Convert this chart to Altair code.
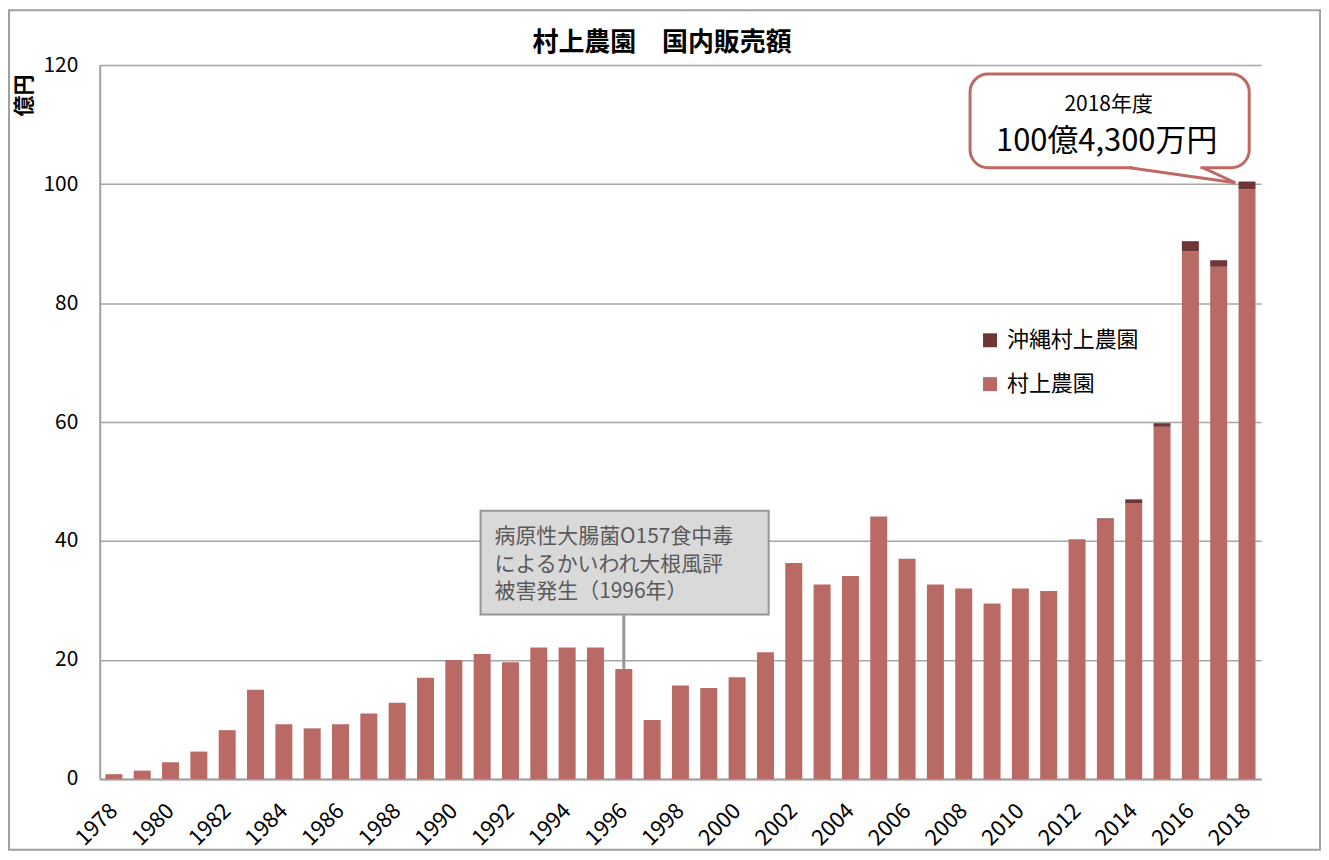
import altair as alt
import pandas as pd

years = ["1978", "1979", "1980", "1981", "1982", "1983", "1984", "1985", "1986", "1987",
         "1988", "1989", "1990", "1991", "1992", "1993", "1994", "1995", "1996", "1997",
         "1998", "1999", "2000", "2001", "2002", "2003", "2004", "2005", "2006", "2007",
         "2008", "2009", "2010", "2011", "2012", "2013", "2014", "2015", "2016", "2017", "2018"]
murakami = [0.8, 1.4, 2.8, 4.6, 8.2, 15.0, 9.2, 8.5, 9.2, 11.0,
            12.8, 17.0, 20.0, 21.0, 19.6, 22.1, 22.1, 22.1, 18.5, 9.9,
            15.7, 15.3, 17.1, 21.3, 36.3, 32.7, 34.1, 44.1, 37.0, 32.7,
            32.0, 29.5, 32.0, 31.6, 40.3, 43.6, 46.3, 59.2, 88.7, 86.1, 99.1]
okinawa = [0, 0, 0, 0, 0, 0, 0, 0, 0, 0,
           0, 0, 0, 0, 0, 0, 0, 0, 0, 0,
           0, 0, 0, 0, 0, 0, 0, 0, 0, 0,
           0, 0, 0, 0, 0, 0.2, 0.7, 0.6, 1.7, 1.1, 1.33]
series = ["沖縄村上農園", "村上農園"]
colors = ["#6E3634", "#B96A65"]
label_years = ["1978", "1980", "1982", "1984", "1986", "1988", "1990", "1992", "1994", "1996",
               "1998", "2000", "2002", "2004", "2006", "2008", "2010", "2012", "2014", "2016", "2018"]
y_ticks = [0, 20, 40, 60, 80, 100, 120]

title_text = "村上農園　国内販売額"
y_title = "億円"
callout_lines = ["2018年度", "100億4,300万円"]
note_lines = ["病原性大腸菌O157食中毒", "によるかいわれ大根風評", "被害発生（1996年）"]
note_year = "1996"
note_value = 18.5

FONT = "Noto Sans CJK JP"

rows = []
for yr, m, o in zip(years, murakami, okinawa):
    rows.append({"year": yr, "series": "村上農園", "value": m, "ord": 0})
    rows.append({"year": yr, "series": "沖縄村上農園", "value": o, "ord": 1})
df = pd.DataFrame(rows)

xscale = alt.Scale(paddingInner=0.4, paddingOuter=0.2)
yscale = alt.Scale(domain=[0, 120], nice=False)
xaxis = alt.Axis(values=label_years, labelAngle=-45, labelAlign="right",
                 labelBaseline="middle", labelPadding=28, labelFontSize=22,
                 labelColor="#000000", tickSize=0, domainColor="#A0A0A0",
                 domainWidth=2, title=None, grid=False)
yaxis = alt.Axis(values=y_ticks, grid=True, gridColor="#A6A6A6", gridWidth=1.5,
                 tickSize=0, labelPadding=22, labelFontSize=21, labelColor="#000000",
                 domainColor="#A0A0A0", domainWidth=2,
                 title=y_title, titleAngle=270, titleX=-75, titleY=30,
                 titleAlign="center", titleBaseline="middle",
                 titleFontSize=21, titleFontWeight="bold", titleColor="#000000")

bars = alt.Chart(df).mark_bar().encode(
    x=alt.X("year:N", scale=xscale, sort=years, axis=xaxis),
    y=alt.Y("sum(value):Q", stack="zero", scale=yscale, axis=yaxis),
    color=alt.Color("series:N", scale=alt.Scale(domain=series, range=colors),
                    legend=alt.Legend(orient="none", legendX=882, legendY=265, title=None,
                                      symbolType="square", symbolSize=196,
                                      symbolStrokeWidth=0, labelFontSize=22,
                                      labelColor="#000000", rowPadding=22, labelOffset=6)),
    order=alt.Order("ord:Q", sort="ascending"),
)

one = pd.DataFrame({"a": [0]})

# chart title
title = alt.Chart(one).mark_text(text=title_text, align="center", baseline="middle",
                                 fontSize=26, fontWeight="bold", color="#000000", font=FONT).encode(
    x=alt.value(564), y=alt.value(-22))

# outer border of the chart
border = alt.Chart(one).mark_rect(fill=None, stroke="#A0A0A0", strokeWidth=2).encode(
    x=alt.value(-91), x2=alt.value(1224), y=alt.value(-55), y2=alt.value(787))

# 1996 note connector
note_df = pd.DataFrame({"year": [note_year], "v": [note_value]})
connector = alt.Chart(note_df).mark_rule(color="#969696", strokeWidth=3).encode(
    x=alt.X("year:N", sort=years, scale=xscale, bandPosition=0.5, axis=xaxis),
    y=alt.Y("v:Q", scale=yscale, axis=yaxis), y2=alt.value(551))

note_box = alt.Chart(one).mark_rect(fill="#D9D9D9", stroke="#969696", strokeWidth=2).encode(
    x=alt.value(382), x2=alt.value(671), y=alt.value(447), y2=alt.value(551))
note_text = alt.Chart(one).mark_text(text=note_lines, align="left", baseline="middle",
                                     fontSize=21, lineHeight=28, color="#595959", font=FONT).encode(
    x=alt.value(396), y=alt.value(473))

# 2018 callout
cbox = alt.Chart(one).mark_rect(fill="white", stroke="#BD6A65", strokeWidth=3,
                                cornerRadius=18).encode(
    x=alt.value(873), x2=alt.value(1153), y=alt.value(9), y2=alt.value(103))
cgap = alt.Chart(one).mark_rule(color="white", strokeWidth=5).encode(
    x=alt.value(1036), x2=alt.value(1104), y=alt.value(103), y2=alt.value(103))
ctail1 = alt.Chart(one).mark_rule(color="#BD6A65", strokeWidth=3).encode(
    x=alt.value(1033), x2=alt.value(1139), y=alt.value(103), y2=alt.value(118))
ctail2 = alt.Chart(one).mark_rule(color="#BD6A65", strokeWidth=3).encode(
    x=alt.value(1107), x2=alt.value(1139), y=alt.value(103), y2=alt.value(118))
ctext1 = alt.Chart(one).mark_text(text=callout_lines[0], align="center", baseline="middle",
                                  fontSize=21, color="#000000", font=FONT).encode(
    x=alt.value(1012), y=alt.value(40))
ctext2 = alt.Chart(one).mark_text(text=callout_lines[1], align="center", baseline="middle",
                                  fontSize=31, color="#000000", font=FONT).encode(
    x=alt.value(1010), y=alt.value(77))

chart = alt.layer(
    bars, connector, note_box, note_text, cbox, cgap, ctail1, ctail2, ctext1, ctext2,
    title, border
).properties(
    width=1165, height=716,
    padding={"left": 92, "top": 56, "right": 60, "bottom": 72},
    autosize=alt.AutoSizeParams(type="none"),
).configure(font=FONT, background="white").configure_view(stroke=None)

chart.save("out.html", embed_options={"renderer": "svg", "actions": False})
